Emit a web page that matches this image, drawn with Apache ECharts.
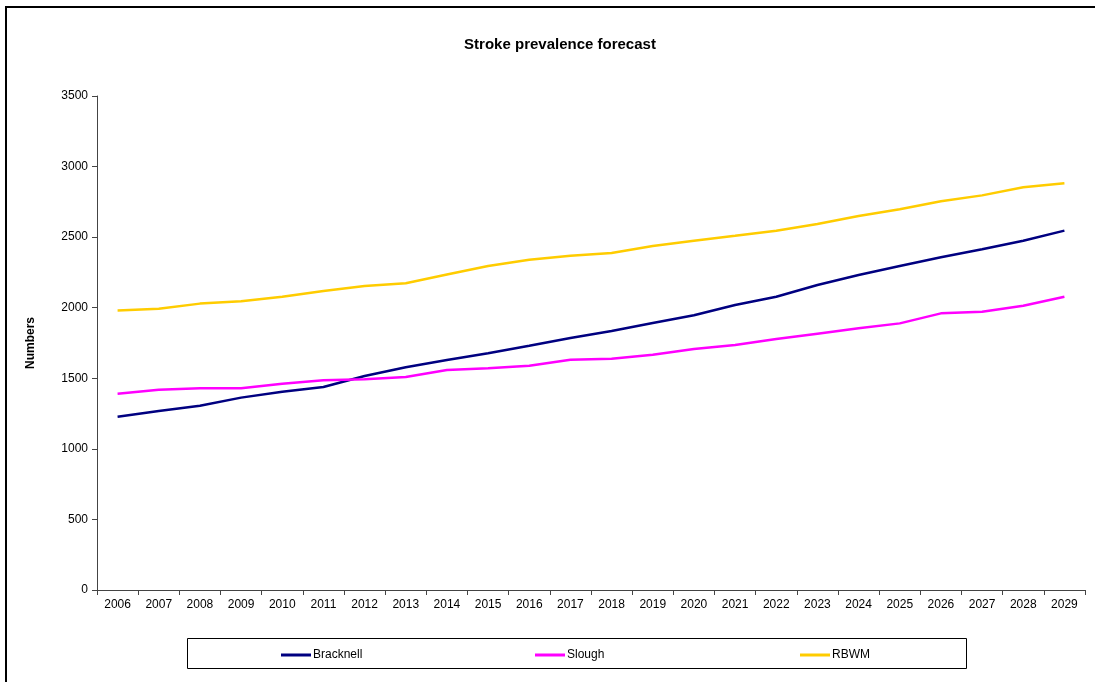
<!DOCTYPE html>
<html>
<head>
<meta charset="utf-8">
<script src="https://cdn.jsdelivr.net/npm/echarts@6/dist/echarts.min.js"></script>
<style>
  html, body { margin: 0; padding: 0; background: #fff; }
  #chart { width: 1095px; height: 682px; }
</style>
</head>
<body>
<div id="chart"></div>
<script>
const years = ['2006', '2007', '2008', '2009', '2010', '2011', '2012', '2013', '2014', '2015', '2016', '2017',
  '2018', '2019', '2020', '2021', '2022', '2023', '2024', '2025', '2026', '2027', '2028', '2029'];
const bracknell = [1228, 1268, 1306, 1363, 1405, 1438, 1516, 1578, 1630, 1677, 1731, 1786,
  1835, 1892, 1946, 2019, 2078, 2161, 2232, 2296, 2357, 2414, 2475, 2546];
const slough = [1391, 1419, 1429, 1429, 1462, 1486, 1493, 1509, 1559, 1571, 1589, 1632,
  1639, 1667, 1708, 1736, 1778, 1816, 1854, 1889, 1960, 1972, 2014, 2078];
const rbwm = [1981, 1993, 2029, 2045, 2078, 2118, 2154, 2173, 2236, 2296, 2340, 2369,
  2388, 2437, 2475, 2510, 2546, 2593, 2650, 2697, 2754, 2796, 2853, 2881];

const font = 'Liberation Sans, Arial, sans-serif';
const chart = echarts.init(document.getElementById('chart'));

const legendItem = (name, left) => ({
  data: [name],
  left: left,
  top: 644,
  icon: 'rect',
  itemWidth: 30,
  itemHeight: 3,
  itemGap: 2,
  textStyle: { fontFamily: font, fontSize: 12, color: '#000', padding: [0, 0, 0, -3] },
  selectedMode: false
});

chart.setOption({
  animation: false,
  title: {
    text: 'Stroke prevalence forecast',
    left: 555,
    textAlign: 'center',
    top: 32,
    textStyle: { fontFamily: font, fontSize: 15, fontWeight: 'bold', color: '#000' }
  },
  graphic: [
    {
      type: 'rect',
      shape: { x: 6, y: 7, width: 1100, height: 700 },
      style: { fill: 'none', stroke: '#000', lineWidth: 2 },
      silent: true
    },
    {
      type: 'rect',
      shape: { x: 187.5, y: 638.5, width: 779, height: 30 },
      style: { fill: 'none', stroke: '#000', lineWidth: 1 },
      silent: true
    }
  ],
  grid: { left: 97, right: 10, top: 96, bottom: 92 },
  xAxis: {
    type: 'category',
    data: years,
    boundaryGap: true,
    axisLine: { lineStyle: { color: '#444', width: 1 } },
    axisTick: { show: true, alignWithLabel: false, length: 5, lineStyle: { color: '#444' } },
    axisLabel: { fontFamily: font, fontSize: 12, color: '#000', margin: 9, interval: 0 }
  },
  yAxis: {
    type: 'value',
    min: 0,
    max: 3500,
    interval: 500,
    name: 'Numbers',
    nameLocation: 'middle',
    nameGap: 60,
    nameTextStyle: { fontFamily: font, fontSize: 12, fontWeight: 'bold', color: '#000' },
    axisLine: { show: true, lineStyle: { color: '#444', width: 1 } },
    axisTick: { show: true, length: 5, lineStyle: { color: '#444' } },
    axisLabel: { fontFamily: font, fontSize: 12, color: '#000', margin: 9, formatter: v => String(v) },
    splitLine: { show: false }
  },
  legend: [
    legendItem('Bracknell', 276),
    legendItem('Slough', 530),
    legendItem('RBWM', 795)
  ],
  series: [
    { name: 'Bracknell', type: 'line', data: bracknell, showSymbol: false, color: '#000080', lineStyle: { width: 2.5, color: '#000080' } },
    { name: 'Slough', type: 'line', data: slough, showSymbol: false, color: '#FF00FF', lineStyle: { width: 2.5, color: '#FF00FF' } },
    { name: 'RBWM', type: 'line', data: rbwm, showSymbol: false, color: '#FFCC00', lineStyle: { width: 2.5, color: '#FFCC00' } }
  ]
});
</script>
</body>
</html>
